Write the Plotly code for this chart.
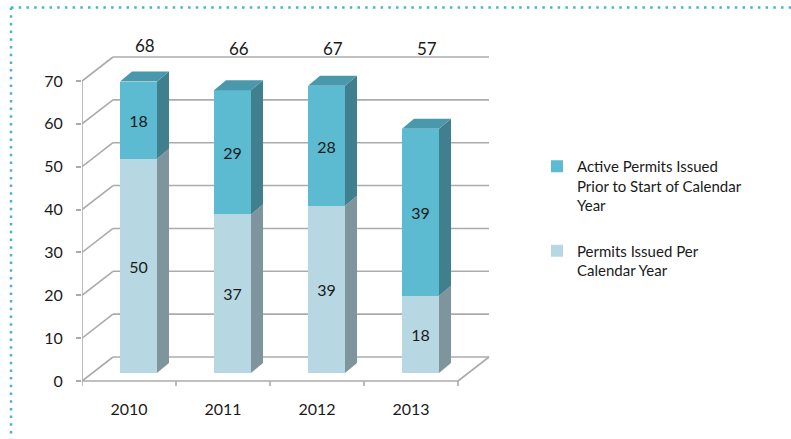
import plotly.graph_objects as go

# ---------------- data ----------------
years = ["2010", "2011", "2012", "2013"]
permits_per_year = [50, 37, 39, 18]        # Permits Issued Per Calendar Year (bottom)
active_prior = [18, 29, 28, 39]            # Active Permits Issued Prior to Start of Calendar Year (top)
totals = [68, 66, 67, 57]
y_ticks = [0, 10, 20, 30, 40, 50, 60, 70]

name_top = "Active Permits Issued<br>Prior to Start of Calendar<br>Year"
name_bot = "Permits Issued Per<br>Calendar Year"

# ---------------- styling / geometry ----------------
FONT = "Lato, 'Open Sans', sans-serif"
TXT = "#1a1a1a"
GRID = "#ababab"
TOP_FRONT, TOP_SIDE, TOP_CAP = "#5cbbd0", "#3f7f8e", "#4a98ab"
BOT_FRONT, BOT_SIDE = "#b7d8e2", "#7f959d"

W, H = 791, 439
ML, MR, MT, MB = 82, 295, 38, 45
X_PX = 94.0                 # pixels per category
Y_PX = 300.0 / 70.0         # pixels per unit
Y0_PIX = 381                # pixel row of value 0 on front plane
plot_w = W - ML - MR
plot_h = H - MT - MB
x_min = -0.5
x_max = x_min + plot_w / X_PX
y_min = -((H - MB) - Y0_PIX) / Y_PX
y_max = y_min + plot_h / Y_PX

def dx(px):
    return px / X_PX

def dy(px):
    return px / Y_PX

WALL = (dx(31), dy(24))         # back wall offset
BAR_OFF = (dx(9.5), dy(8))      # bar front plane offset
DEPTH = (dx(12), dy(10))        # bar depth
BAR_W = dx(37)

n = len(years)
xs = list(range(n))

fig = go.Figure()

# ---------------- walls / gridlines as shapes (below traces) ----------------
shapes = []
line = dict(color=GRID, width=1.6)
x_front_l, x_front_r = -0.5, n - 0.5
for v in y_ticks:
    shapes.append(dict(type="line", xref="x", yref="y", layer="below", line=line,
                       x0=x_front_l + WALL[0], x1=x_front_r + WALL[0],
                       y0=v + WALL[1], y1=v + WALL[1]))
    shapes.append(dict(type="line", xref="x", yref="y", layer="below", line=line,
                       x0=x_front_l, x1=x_front_l + WALL[0], y0=v, y1=v + WALL[1]))
shapes.append(dict(type="line", xref="x", yref="y", layer="below", line=line,
                   x0=x_front_l, x1=x_front_l, y0=0, y1=max(y_ticks)))
shapes.append(dict(type="line", xref="x", yref="y", layer="below", line=line,
                   x0=x_front_l, x1=x_front_r, y0=0, y1=0))
shapes.append(dict(type="line", xref="x", yref="y", layer="below", line=line,
                   x0=x_front_r, x1=x_front_r + WALL[0], y0=0, y1=WALL[1]))
for b in range(n + 1):
    shapes.append(dict(type="line", xref="x", yref="y", layer="below", line=line,
                       x0=b - 0.5, x1=b - 0.5, y0=0, y1=-dy(5)))

# dotted frame (top and left)
frame = dict(color="#4bb3cc", width=2.5, dash="2.5px,5.2px")
px2paper_x = lambda p: (p - ML) / plot_w
px2paper_y = lambda p: ((H - MB) - p) / plot_h
shapes.append(dict(type="line", xref="paper", yref="paper", line=frame,
                   x0=px2paper_x(11), x1=px2paper_x(W + 5), y0=px2paper_y(7.5), y1=px2paper_y(7.5)))
shapes.append(dict(type="line", xref="paper", yref="paper", line=frame,
                   x0=px2paper_x(11), x1=px2paper_x(11), y0=px2paper_y(7.5), y1=px2paper_y(H + 5)))

# ---------------- front faces (bars) ----------------
bar_x = [i + BAR_OFF[0] for i in xs]
fig.add_trace(go.Bar(
    x=bar_x, y=permits_per_year, base=[BAR_OFF[1]] * n, width=BAR_W,
    name=name_bot, marker=dict(color=BOT_FRONT, line=dict(width=0)),
    text=[str(v) for v in permits_per_year], textposition="inside",
    insidetextanchor="middle", textfont=dict(color=TXT, size=16, family=FONT),
    constraintext="none", legendrank=2, legendgroup="b", hoverinfo="skip"))
fig.add_trace(go.Bar(
    x=bar_x, y=active_prior, base=[p + BAR_OFF[1] for p in permits_per_year], width=BAR_W,
    name=name_top, marker=dict(color=TOP_FRONT, line=dict(width=0)),
    text=[str(v) for v in active_prior], textposition="inside",
    insidetextanchor="middle", textfont=dict(color=TXT, size=16, family=FONT),
    constraintext="none", legendrank=1, legendgroup="a", hoverinfo="skip"))

# ---------------- side and top faces ----------------
def poly(xv, yv, color):
    fig.add_trace(go.Scatter(x=xv + [xv[0]], y=yv + [yv[0]], mode="lines", fill="toself",
                             fillcolor=color, line=dict(width=0, color=color),
                             showlegend=False, hoverinfo="skip"))

for i in xs:
    xl = bar_x[i] - BAR_W / 2
    xr = bar_x[i] + BAR_W / 2
    b0 = BAR_OFF[1]
    b1 = b0 + permits_per_year[i]
    b2 = b1 + active_prior[i]
    poly([xr, xr + DEPTH[0], xr + DEPTH[0], xr],
         [b0, b0 + DEPTH[1], b1 + DEPTH[1], b1], BOT_SIDE)
    poly([xr, xr + DEPTH[0], xr + DEPTH[0], xr],
         [b1, b1 + DEPTH[1], b2 + DEPTH[1], b2], TOP_SIDE)
    poly([xl, xr, xr + DEPTH[0], xl + DEPTH[0]],
         [b2, b2, b2 + DEPTH[1], b2 + DEPTH[1]], TOP_CAP)

# ---------------- total labels ----------------
wall_top = max(y_ticks) + WALL[1]
for i in xs:
    fig.add_annotation(x=bar_x[i] + DEPTH[0] / 2, y=max(totals[i] + 10.4, wall_top + 2.1),
                       text=str(totals[i]), showarrow=False,
                       font=dict(family=FONT, size=17, color=TXT))

fig.update_layout(
    width=W, height=H,
    margin=dict(l=ML, r=MR, t=MT, b=MB, autoexpand=False),
    paper_bgcolor="white", plot_bgcolor="white",
    barmode="overlay", bargap=0,
    font=dict(family=FONT, size=16, color=TXT),
    shapes=shapes,
    showlegend=True,
    legend=dict(xref="container", yref="container", x=537 / W, y=1 - 150 / H,
                xanchor="left", yanchor="top", valign="top",
                font=dict(size=15, family=FONT, color=TXT),
                tracegroupgap=23, bgcolor="rgba(0,0,0,0)", itemwidth=30),
    xaxis=dict(range=[x_min, x_max], showgrid=False, zeroline=False, showline=False,
               tickvals=xs, ticktext=years, ticks="", ticklabelstandoff=4,
               tickfont=dict(size=16, family=FONT, color=TXT), fixedrange=True),
    yaxis=dict(range=[y_min, y_max], showgrid=False, zeroline=False, showline=False,
               tickvals=y_ticks, ticks="outside", ticklen=5, tickcolor=GRID, tickwidth=1.6,
               ticklabelstandoff=10, tickfont=dict(size=16, family=FONT, color=TXT),
               fixedrange=True),
)

fig.write_html("out.html", config={"displayModeBar": False},
               post_script="document.body.style.margin='0';document.body.style.overflow='hidden';")
